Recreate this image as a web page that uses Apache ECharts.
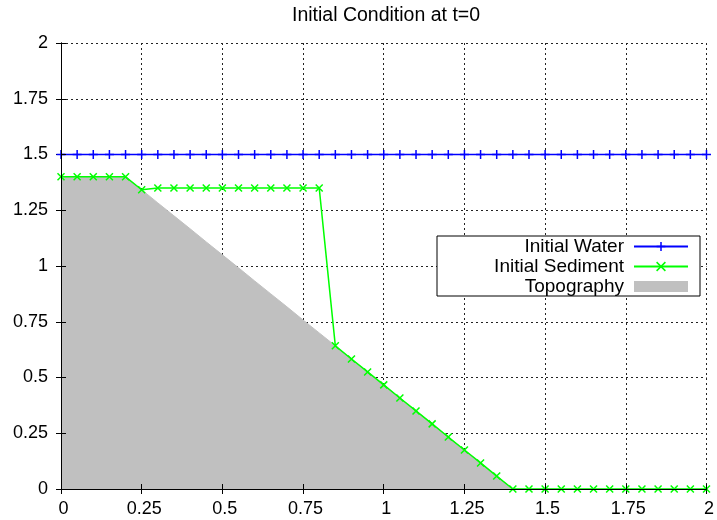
<!DOCTYPE html>
<html>
<head>
<meta charset="utf-8">
<script src="https://cdn.jsdelivr.net/npm/echarts@6/dist/echarts.min.js"></script>
<style>html,body{margin:0;padding:0;background:#fff}#c{width:717px;height:520px}</style>
</head>
<body>
<div id="c"></div>
<script>
var xValues = [0, 0.05, 0.1, 0.15, 0.2, 0.25, 0.3, 0.35, 0.4, 0.45, 0.5, 0.55, 0.6, 0.65, 0.7, 0.75, 0.8, 0.85, 0.9, 0.95, 1.0,
  1.05, 1.1, 1.15, 1.2, 1.25, 1.3, 1.35, 1.4, 1.45, 1.5, 1.55, 1.6, 1.65, 1.7, 1.75, 1.8, 1.85, 1.9, 1.95, 2.0];
var water = [1.5, 1.5, 1.5, 1.5, 1.5, 1.5, 1.5, 1.5, 1.5, 1.5, 1.5, 1.5, 1.5, 1.5, 1.5, 1.5, 1.5, 1.5, 1.5, 1.5, 1.5,
  1.5, 1.5, 1.5, 1.5, 1.5, 1.5, 1.5, 1.5, 1.5, 1.5, 1.5, 1.5, 1.5, 1.5, 1.5, 1.5, 1.5, 1.5, 1.5, 1.5];
var sediment = [1.4, 1.4, 1.4, 1.4, 1.4, 1.342, 1.35, 1.35, 1.35, 1.35, 1.35, 1.35, 1.35, 1.35, 1.35, 1.35, 1.35, 0.642, 0.583, 0.525, 0.467,
  0.408, 0.35, 0.292, 0.233, 0.175, 0.117, 0.058, 0, 0, 0, 0, 0, 0, 0, 0, 0, 0, 0, 0, 0];
var topography = [1.4, 1.4, 1.4, 1.4, 1.4, 1.342, 1.283, 1.225, 1.167, 1.108, 1.05, 0.992, 0.933, 0.875, 0.817, 0.758, 0.7, 0.642, 0.583, 0.525, 0.467,
  0.408, 0.35, 0.292, 0.233, 0.175, 0.117, 0.058, 0, 0, 0, 0, 0, 0, 0, 0, 0, 0, 0, 0, 0];
var seriesNames = ['Initial Water', 'Initial Sediment', 'Topography'];
var titleText = 'Initial Condition at t=0';

function pairs(ys) { return xValues.map(function (x, i) { return [x, ys[i]]; }); }

var FONT = "'Liberation Sans', Arial, sans-serif";
var PLUS = 'path://M0,5L10,5M5,0L5,10';
var CROSS = 'path://M0,0L10,10M10,0L0,10';

var chart = echarts.init(document.getElementById('c'), null, {renderer: 'canvas'});
var gridLine = {show: true, lineStyle: {color: '#222', width: 1, type: [2, 3]}};
var axisBase = {type: 'value', min: 0, max: 2, interval: 0.25};

chart.setOption({
  animation: false,
  backgroundColor: '#fff',
  title: {
    text: titleText, left: 386, top: 6, padding: 0, textAlign: 'center',
    textStyle: {fontFamily: FONT, fontSize: 19.5, fontWeight: 'normal', color: '#000'}
  },
  grid: {left: 61, right: 6, top: 43, bottom: 31},
  legend: {
    data: [
      {name: seriesNames[0], itemStyle: {borderWidth: 1.5}},
      {name: seriesNames[1], itemStyle: {borderWidth: 1.5}},
      {name: seriesNames[2], icon: 'rect', itemStyle: {borderWidth: 0}}
    ],
    orient: 'vertical', align: 'right',
    right: 17, top: 236,
    padding: [1, 11, 0, 0],
    itemWidth: 54, itemHeight: 11, itemGap: 1,
    backgroundColor: '#fff', borderColor: '#000', borderWidth: 1, borderRadius: 0,
    selectedMode: false,
    textStyle: {fontFamily: FONT, fontSize: 19, color: '#000', width: 187, height: 16, align: 'right', padding: [0, 5, 0, 0], lineHeight: 16}
  },
  xAxis: [
    Object.assign({}, axisBase, {
      position: 'bottom', z: 5,
      axisLine: {show: true, lineStyle: {color: '#000', width: 1}},
      axisTick: {show: true, inside: true, length: 5, lineStyle: {color: '#000'}},
      axisLabel: {fontFamily: FONT, fontSize: 18, color: '#000', margin: 11, padding: [0, 0, 0, 5]},
      splitLine: {show: false}
    }),
    Object.assign({}, axisBase, {
      position: 'top', z: 0,
      axisLine: {show: true, lineStyle: {color: '#000', width: 1}},
      axisTick: {show: true, inside: true, length: 5, lineStyle: {color: '#000'}},
      axisLabel: {show: false},
      splitLine: gridLine
    })
  ],
  yAxis: [
    Object.assign({}, axisBase, {
      position: 'left', z: 5,
      axisLine: {show: true, lineStyle: {color: '#000', width: 1}},
      axisTick: {show: true, inside: true, length: 5, lineStyle: {color: '#000'}},
      axisLabel: {fontFamily: FONT, fontSize: 18, color: '#000', margin: 13},
      splitLine: {show: false}
    }),
    Object.assign({}, axisBase, {
      position: 'right', z: 0,
      axisLine: {show: true, lineStyle: {color: '#000', width: 1}},
      axisTick: {show: true, inside: true, length: 5, lineStyle: {color: '#000'}},
      axisLabel: {show: false},
      splitLine: gridLine
    })
  ],
  series: [
    {
      name: seriesNames[2], type: 'line', data: pairs(topography), z: 1,
      color: '#c0c0c0', symbol: 'none', showSymbol: false,
      lineStyle: {color: '#c0c0c0', width: 1},
      areaStyle: {color: '#c0c0c0', opacity: 1},
      itemStyle: {color: '#c0c0c0'}
    },
    {
      name: seriesNames[1], type: 'line', data: pairs(sediment), z: 2, clip: false,
      color: '#00ff00', symbol: CROSS, symbolSize: 7, showAllSymbol: true,
      lineStyle: {color: '#00ff00', width: 1.5},
      itemStyle: {color: '#00ff00', borderColor: '#00ff00', borderWidth: 1.5}
    },
    {
      name: seriesNames[0], type: 'line', data: pairs(water), z: 3, clip: false,
      color: '#0000ff', symbol: PLUS, symbolSize: 9, showAllSymbol: true,
      lineStyle: {color: '#0000ff', width: 1.5},
      itemStyle: {color: '#0000ff', borderColor: '#0000ff', borderWidth: 1.5}
    }
  ]
});
</script>
</body>
</html>
